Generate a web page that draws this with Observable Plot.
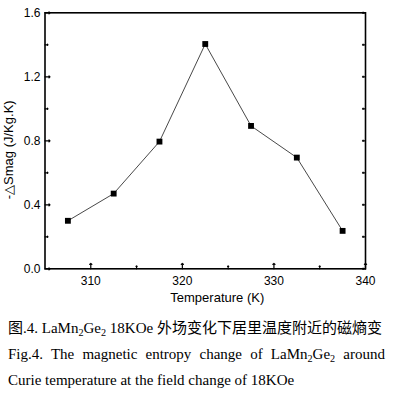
<!DOCTYPE html>
<html>
<head>
<meta charset="utf-8">
<script src="https://cdn.jsdelivr.net/npm/d3@7"></script>
<script src="https://cdn.jsdelivr.net/npm/@observablehq/plot@0.6"></script>
<style>
  html, body { margin: 0; padding: 0; background: #fff; }
  #chart svg { display: block; }
  .cap { font-family: "Liberation Serif", "Noto Sans CJK SC", serif; font-size: 15px; line-height: 26px; color: #000; padding: 0 9px 0 8px; margin-top: 10px; }
  .cap sub { font-size: 0.68em; vertical-align: -0.25em; line-height: 0; }
  .just { text-align: justify; text-align-last: justify; }
</style>
</head>
<body>
<div id="chart"></div>
<div class="cap">
  <div>图.4. LaMn<sub>2</sub>Ge<sub>2</sub> 18KOe 外场变化下居里温度附近的磁熵变</div>
  <div class="just">Fig.4. The magnetic entropy change of LaMn<sub>2</sub>Ge<sub>2</sub> around</div>
  <div>Curie temperature at the field change of 18KOe</div>
</div>
<script>
const temperature = [307.5, 312.5, 317.5, 322.5, 327.5, 332.5, 337.5];
const deltaS = [0.30, 0.47, 0.795, 1.405, 0.893, 0.695, 0.237];
const xMajorTicks = [310, 320, 330, 340];
const xMinorTicks = [315, 325, 335];
const yMajorTicks = [0, 0.4, 0.8, 1.2, 1.6];
const yMinorTicks = [0.2, 0.6, 1.0, 1.4];
const yAllTicks = [0, 0.2, 0.4, 0.6, 0.8, 1.0, 1.2, 1.4, 1.6];
const xLabel = "Temperature (K)";
const yLabel = "-\u25B3Smag (J/Kg.K)";

const data = temperature.map((t, i) => ({t, s: deltaS[i]}));
const xMin = 305, xMax = 340, yMin = 0, yMax = 1.6;

const chart = Plot.plot({
  width: 394,
  height: 305,
  marginLeft: 44.5,
  marginRight: 29,
  marginTop: 12.3,
  marginBottom: 36.7,
  style: {fontFamily: "'Liberation Sans', Arial, sans-serif", fontSize: "12px", color: "#000", background: "#fff"},
  x: {domain: [xMin, xMax]},
  y: {domain: [yMin, yMax]},
  marks: [
    Plot.axisX({ticks: xMajorTicks, tickSize: 0, tickPadding: 7.5, label: null, fontSize: 12}),
    Plot.axisY({ticks: yMajorTicks, tickSize: 0, tickPadding: 4.5, tickFormat: d3.format(".1f"), label: null, fontSize: 12}),
    // inward ticks
    Plot.vector(xMajorTicks, {x: d => d, y: yMin, length: 5.5, rotate: 0, anchor: "start", stroke: "#000", strokeWidth: 1.2}),
    Plot.vector(xMinorTicks, {x: d => d, y: yMin, length: 3, rotate: 0, anchor: "start", stroke: "#000", strokeWidth: 1.2}),
    Plot.vector(yMajorTicks, {x: xMin, y: d => d, length: 5, rotate: 90, anchor: "start", stroke: "#000", strokeWidth: 1.2}),
    Plot.vector(yMinorTicks, {x: xMin, y: d => d, length: 3, rotate: 90, anchor: "start", stroke: "#000", strokeWidth: 1.2}),
    Plot.vector(yAllTicks, {x: xMax, y: d => d, length: 3, rotate: -90, anchor: "start", stroke: "#000", strokeWidth: 1.2}),
    Plot.frame({stroke: "#000", strokeWidth: 1.6}),
    Plot.line(data, {x: "t", y: "s", stroke: "#333", strokeWidth: 0.9}),
    Plot.dot(data, {x: "t", y: "s", symbol: "square", r: 3.3, fill: "#000", stroke: "none"}),
    Plot.text([xLabel], {frameAnchor: "bottom", text: d => d, dy: 29.5, dx: 12, fontSize: 13, fill: "#000", textAnchor: "middle", lineAnchor: "middle"}),
    Plot.text([yLabel], {frameAnchor: "left", text: d => d, dx: -36, dy: 9, rotate: -90, fontSize: 13, fill: "#000", textAnchor: "middle", lineAnchor: "middle"})
  ]
});
document.getElementById("chart").appendChild(chart);
</script>
</body>
</html>
